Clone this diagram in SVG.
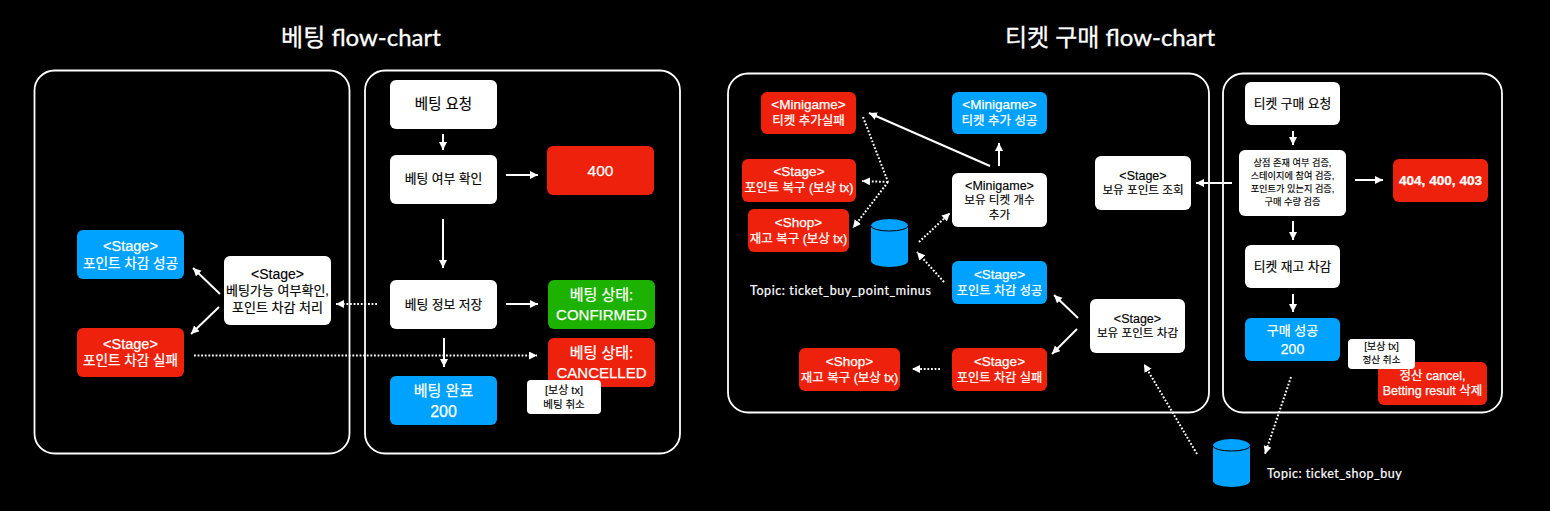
<svg xmlns="http://www.w3.org/2000/svg" width="1550" height="511" viewBox="0 0 1550 511">
<style>
text{font-family:"Liberation Sans","Noto Sans CJK KR",sans-serif;text-anchor:middle}
.title{font-family:"Lato","Noto Sans CJK KR",sans-serif;font-size:24px;fill:#fff;stroke:#fff;stroke-width:.3px}
.topic{font-family:"Lato","Noto Sans CJK KR",sans-serif;font-size:12.5px;fill:#fff;text-anchor:start;letter-spacing:.2px;stroke:#fff;stroke-width:.2px}
.panel{fill:none;stroke:#fff;stroke-width:1.800}
.w rect{fill:#fff}.w text{fill:#000;stroke:#000;stroke-width:.15px}
.r rect{fill:#EE220C}.b rect{fill:#00A2FF}.g rect{fill:#1DB100}
.r text,.b text,.g text{fill:#fff;stroke:#fff;stroke-width:.25px}
.f9{font-size:9.2px}.f95{font-size:9.6px}.f10{font-size:10px}.f105{font-size:10.5px}.f11{font-size:11px}.f115{font-size:11.600px}.f122{font-size:12.200px}.f125{font-size:12.500px}.f128{font-size:12.800px}.f13{font-size:13px}.f134{font-size:13.500px}.f136{font-size:13.600px}.f14{font-size:14px}.f145{font-size:14.500px}.f15{font-size:15px}.f155{font-size:15.500px}.f16{font-size:16px}
.cy{fill:#00A2FF}.cyl{fill:none;stroke:#000;stroke-width:1}
#connectors line,#connectors polyline{fill:none;stroke:#fff;stroke-width:2}
#connectors .d{stroke-dasharray:1.800 1.800}
</style>
<defs>
<marker id="a" markerUnits="userSpaceOnUse" markerWidth="10" markerHeight="10" refX="8" refY="4" orient="auto"><path d="M0 0L8 4L0 8Z" fill="#fff"/></marker>
</defs>
<rect width="1550" height="511" fill="#000"/>
<text class="title" x="361" y="46">베팅 flow-chart</text>
<text class="title" x="1110" y="46">티켓 구매 flow-chart</text>
<g id="panels">
<rect class="panel" x="34.500" y="70.500" width="315" height="383" rx="20"/>
<rect class="panel" x="365" y="70.500" width="315" height="383" rx="20"/>
<rect class="panel" x="728" y="73.500" width="481" height="339" rx="20"/>
<rect class="panel" x="1223" y="73.500" width="279" height="339" rx="20"/>
</g>
<g id="connectors">
<line x1="443" y1="134" x2="443" y2="150" marker-end="url(#a)"/>
<line x1="506" y1="175" x2="538" y2="175" marker-end="url(#a)"/>
<line x1="443" y1="219" x2="443" y2="268" marker-end="url(#a)"/>
<line x1="506" y1="304" x2="538" y2="304" marker-end="url(#a)"/>
<line x1="444" y1="338" x2="444" y2="367" marker-end="url(#a)"/>
<line class="d" x1="377" y1="304" x2="336" y2="304" marker-end="url(#a)"/>
<line class="d" x1="194" y1="355.500" x2="537" y2="355.500" marker-end="url(#a)"/>
<line x1="220" y1="294" x2="193" y2="268" marker-end="url(#a)"/>
<line x1="219" y1="307" x2="191" y2="334" marker-end="url(#a)"/>
<line x1="990" y1="166" x2="869" y2="113" marker-end="url(#a)"/>
<line x1="999" y1="166" x2="999" y2="143" marker-end="url(#a)"/>
<polyline class="d" points="863,117 888,182"/>
<line class="d" x1="888" y1="182" x2="862" y2="181" marker-end="url(#a)"/>
<line class="d" x1="888" y1="182" x2="853" y2="228" marker-end="url(#a)"/>
<line class="d" x1="919" y1="242" x2="950" y2="213" marker-end="url(#a)"/>
<line class="d" x1="944" y1="282" x2="917" y2="252" marker-end="url(#a)"/>
<line x1="1078" y1="318" x2="1054" y2="295" marker-end="url(#a)"/>
<line x1="1077" y1="329" x2="1052" y2="354" marker-end="url(#a)"/>
<line class="d" x1="940" y1="369" x2="912" y2="369" marker-end="url(#a)"/>
<line class="d" x1="1197" y1="454" x2="1144" y2="364" marker-end="url(#a)"/>
<line x1="1293" y1="131" x2="1293" y2="145" marker-end="url(#a)"/>
<line x1="1293" y1="221" x2="1293" y2="240" marker-end="url(#a)"/>
<line x1="1355" y1="180" x2="1383" y2="180" marker-end="url(#a)"/>
<line x1="1232" y1="183" x2="1196" y2="183" marker-end="url(#a)"/>
<line x1="1293" y1="294" x2="1293" y2="312" marker-end="url(#a)"/>
<line class="d" x1="1291" y1="377" x2="1265" y2="454" marker-end="url(#a)"/>
</g>
<g id="n1" class="w"><rect x="390" y="80" width="107" height="49" rx="6"/><text class="f145" x="443.500" y="109">베팅 요청</text></g>
<g id="n2" class="w"><rect x="390" y="155" width="107" height="49" rx="6"/><text class="f128" x="443.500" y="183">베팅 여부 확인</text></g>
<g id="n3" class="r"><rect x="547" y="146" width="107" height="49" rx="6"/><text class="f155" x="600.500" y="176">400</text></g>
<g id="n4" class="w"><rect x="390" y="280" width="107" height="49" rx="6"/><text class="f128" x="443.500" y="309">베팅 정보 저장</text></g>
<g id="n5" class="g"><rect x="548" y="280" width="107" height="49" rx="6"/><text class="f15" x="601.500" y="300">베팅 상태:</text><text class="f15" x="601.500" y="320">CONFIRMED</text></g>
<g id="n6" class="r"><rect x="548" y="338" width="107" height="49" rx="6"/><text class="f15" x="601.500" y="358">베팅 상태:</text><text class="f15" x="601.500" y="378">CANCELLED</text></g>
<g id="n7" class="b"><rect x="390" y="376" width="107" height="49" rx="6"/><text class="f15" x="443.500" y="396">베팅 완료</text><text class="f16" x="443.500" y="417">200</text></g>
<g id="n8" class="w"><rect x="527" y="380" width="74" height="34" rx="4"/><text class="f11" x="564" y="394">[보상 tx]</text><text class="f105" x="564" y="408">베팅 취소</text></g>
<g id="n9" class="w"><rect x="224" y="256" width="107" height="69" rx="6"/><text class="f14" x="277.500" y="279">&lt;Stage&gt;</text><text class="f13" x="277.500" y="295">베팅가능 여부확인,</text><text class="f13" x="277.500" y="312">포인트 차감 처리</text></g>
<g id="n10" class="b"><rect x="77" y="230" width="107" height="49" rx="6"/><text class="f145" x="130.500" y="251">&lt;Stage&gt;</text><text class="f136" x="130.500" y="268">포인트 차감 성공</text></g>
<g id="n11" class="r"><rect x="77" y="328" width="107" height="49" rx="6"/><text class="f145" x="130.500" y="349">&lt;Stage&gt;</text><text class="f136" x="130.500" y="365">포인트 차감 실패</text></g>
<g id="m1" class="r"><rect x="761" y="92" width="95" height="42" rx="6"/><text class="f134" x="808.500" y="109">&lt;Minigame&gt;</text><text class="f125" x="808.500" y="125">티켓 추가실패</text></g>
<g id="m2" class="b"><rect x="952" y="92" width="95" height="42" rx="6"/><text class="f134" x="999.500" y="109">&lt;Minigame&gt;</text><text class="f125" x="999.500" y="125">티켓 추가 성공</text></g>
<g id="m3" class="r"><rect x="742" y="159" width="114" height="43" rx="6"/><text class="f134" x="799" y="176">&lt;Stage&gt;</text><text class="f125" x="799" y="192">포인트 복구 (보상 tx)</text></g>
<g id="m4" class="r"><rect x="748" y="209" width="101" height="43" rx="6"/><text class="f134" x="798.500" y="227">&lt;Shop&gt;</text><text class="f125" x="798.500" y="243">재고 복구 (보상 tx)</text></g>
<g id="m5" class="w"><rect x="952" y="173" width="95" height="54" rx="6"/><text class="f125" x="999.500" y="190">&lt;Minigame&gt;</text><text class="f115" x="999.500" y="204">보유 티켓 개수</text><text class="f115" x="999.500" y="219">추가</text></g>
<g id="m6" class="b"><rect x="952" y="261" width="95" height="43" rx="6"/><text class="f134" x="999.500" y="279">&lt;Stage&gt;</text><text class="f122" x="999.500" y="295">포인트 차감 성공</text></g>
<g id="m7" class="w"><rect x="1095" y="156" width="96" height="54" rx="6"/><text class="f125" x="1143" y="180">&lt;Stage&gt;</text><text class="f115" x="1143" y="194">보유 포인트 조회</text></g>
<g id="m8" class="w"><rect x="1090" y="299" width="95" height="54" rx="6"/><text class="f125" x="1137.500" y="323">&lt;Stage&gt;</text><text class="f115" x="1137.500" y="337">보유 포인트 차감</text></g>
<g id="m9" class="r"><rect x="952" y="348" width="95" height="43" rx="6"/><text class="f134" x="999.500" y="366">&lt;Stage&gt;</text><text class="f122" x="999.500" y="382">포인트 차감 실패</text></g>
<g id="m10" class="r"><rect x="799" y="348" width="101" height="43" rx="6"/><text class="f134" x="849.500" y="366">&lt;Shop&gt;</text><text class="f125" x="849.500" y="382">재고 복구 (보상 tx)</text></g>
<g id="t1" class="w"><rect x="1245" y="82" width="95" height="43" rx="6"/><text class="f128" x="1292.500" y="108">티켓 구매 요청</text></g>
<g id="t2" class="w"><rect x="1239" y="150" width="107" height="66" rx="6"/><text class="f9" x="1292.500" y="166">상점 존재 여부 검증,</text><text class="f9" x="1292.500" y="179">스테이지에 참여 검증,</text><text class="f9" x="1292.500" y="192">포인트가 있는지 검증,</text><text class="f9" x="1292.500" y="205">구매 수량 검증</text></g>
<g id="t3" class="r"><rect x="1393" y="159" width="95" height="43" rx="6"/><text class="f136" x="1440.500" y="185" font-weight="bold">404, 400, 403</text></g>
<g id="t4" class="w"><rect x="1245" y="245" width="95" height="43" rx="6"/><text class="f128" x="1292.500" y="271">티켓 재고 차감</text></g>
<g id="t5" class="b"><rect x="1245" y="318" width="95" height="43" rx="6"/><text class="f13" x="1292.500" y="335">구매 성공</text><text class="f14" x="1292.500" y="354">200</text></g>
<g id="t6" class="r"><rect x="1378" y="362" width="109" height="43" rx="6"/><text class="f125" x="1432.500" y="380">정산 cancel,</text><text class="f125" x="1432.500" y="395">Betting result 삭제</text></g>
<g id="t7" class="w"><rect x="1348" y="339" width="67" height="30" rx="4"/><text class="f10" x="1381.500" y="350">[보상 tx]</text><text class="f95" x="1381.500" y="363">정산 취소</text></g>
<g id="topic1"><path class="cy" d="M871 226a18.500 7 0 0 1 37 0V261a18.500 6 0 0 1-37 0Z"/><path class="cyl" d="M871 226a18.500 5 0 0 0 37 0"/><text class="topic" x="750" y="295" textLength="181">Topic: ticket_buy_point_minus</text></g>
<g id="topic2"><path class="cy" d="M1213 446a18.500 7 0 0 1 37 0V481a18.500 6 0 0 1-37 0Z"/><path class="cyl" d="M1213 446a18.500 5 0 0 0 37 0"/><text class="topic" x="1267" y="478" textLength="135">Topic: ticket_shop_buy</text></g>
</svg>
